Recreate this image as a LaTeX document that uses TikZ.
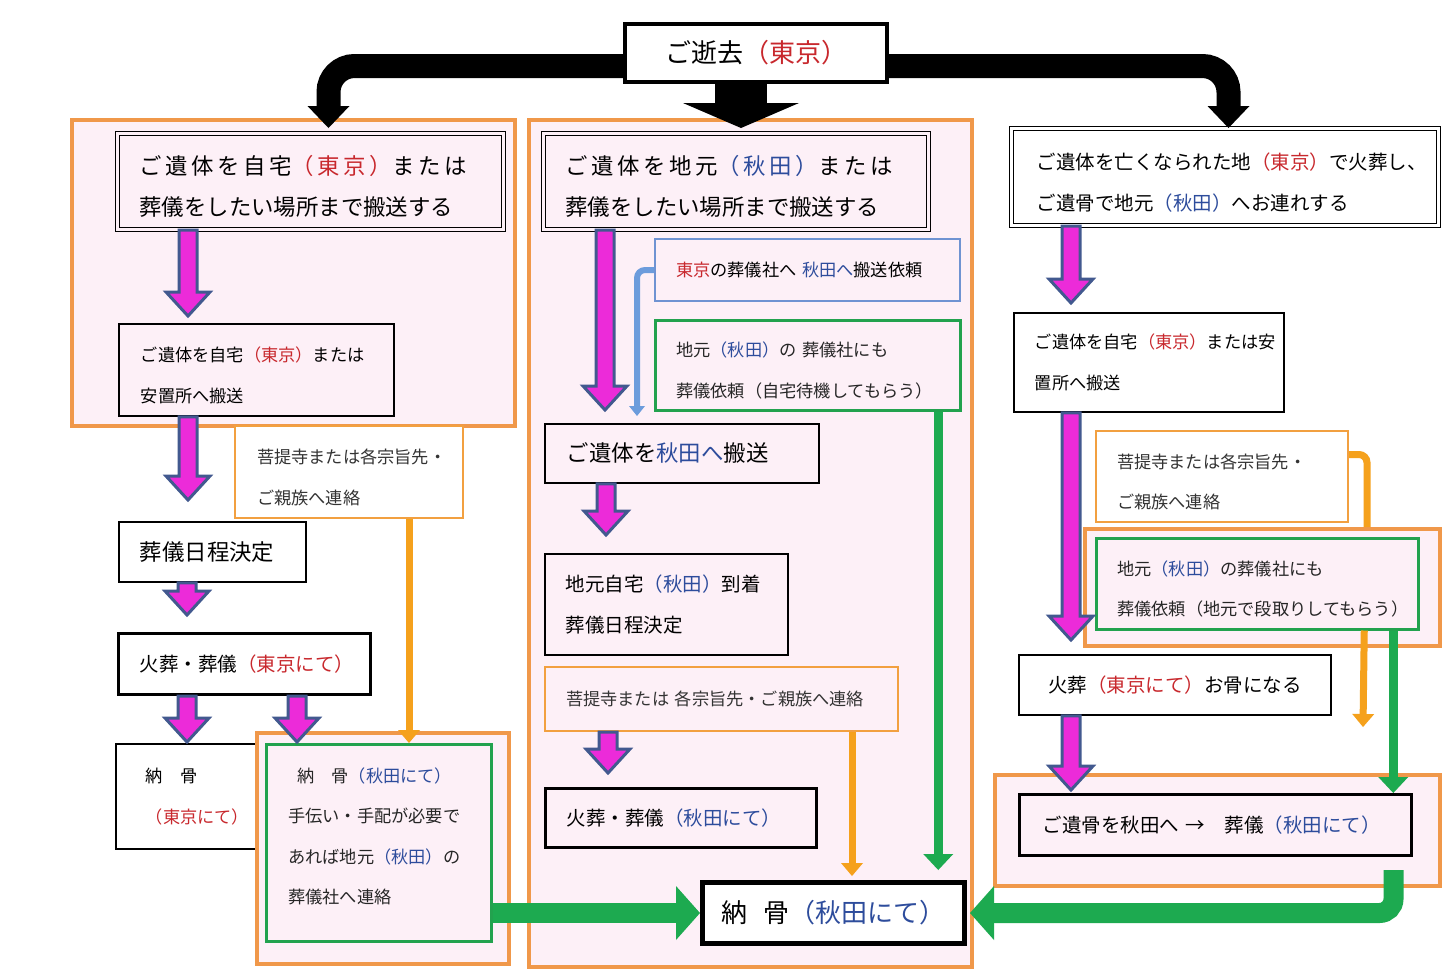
\documentclass[tikz,border=0pt]{standalone}
\usepackage{fontspec}
\setmainfont{Noto Sans CJK JP}
\usepackage{tikz}
\usetikzlibrary{arrows.meta,calc}

\definecolor{pinkbg}{HTML}{FDF0F7}
\definecolor{grouporange}{HTML}{F0984A}
\definecolor{lineorange}{HTML}{F5A11C}
\definecolor{boxorange}{HTML}{F2A040}
\definecolor{boxgreen}{HTML}{22A24E}
\definecolor{linegreen}{HTML}{1DAA50}
\definecolor{boxblue}{HTML}{6F93D2}
\definecolor{lineblue}{HTML}{6C9CDC}
\definecolor{arrowpink}{HTML}{EC2BD9}
\definecolor{arrowedge}{HTML}{42598F}
\definecolor{tkred}{HTML}{C8282D}
\definecolor{akblue}{HTML}{2D4C9C}

\newcommand\tokyo[1]{\textcolor{tkred}{#1}}
\newcommand\akita[1]{\textcolor{akblue}{#1}}
\newcommand\dropline{\rule{0pt}{\dimexpr0.88em+10pt\relax}}
% x, from, to, gap
\newcommand\fatarrow[4]{%
  \draw[fatarr] let \p1=(#2), \p2=(#3) in
    (#1pt-9pt,\y1) -- (#1pt+9pt,\y1) -- (#1pt+9pt,\y2+#4pt+24pt)
    -- (#1pt+22pt,\y2+#4pt+24pt) -- (#1pt,\y2+#4pt)
    -- (#1pt-22pt,\y2+#4pt+24pt) -- (#1pt-9pt,\y2+#4pt+24pt) -- cycle;}

\begin{document}
\begin{tikzpicture}[x=1pt,y=-1pt,
  box/.style={draw=black, line width=1.8pt, anchor=north west, inner sep=0pt, align=left, text=black},
  boxdim/.style n args={3}{minimum width=#1pt, minimum height=#2pt, text width=#3pt},
  dbl/.style={box, double=#1, double distance=2.5pt, line width=1pt},
  thick box/.style={box, line width=3pt},
  obox/.style={box, draw=boxorange, line width=2pt, text=black!80},
  gbox/.style={box, draw=boxgreen, line width=2.5pt, text=black!85},
  bbox/.style={box, draw=boxblue, line width=2pt},
  group/.style={draw=grouporange, line width=4pt, fill=pinkbg, anchor=north west, inner sep=0pt},
  ftitle/.style={font=\fontsize{26}{30}\selectfont},
  flarge/.style={font=\fontsize{22.4}{41}\selectfont},
  fmid/.style={font=\fontsize{19.5}{41}\selectfont},
  fsmall/.style={font=\fontsize{17.2}{40.5}\selectfont},
  fatarr/.style={fill=arrowpink, draw=arrowedge, line width=3pt, line join=miter},
  blackarr/.style={draw=black, line width=24pt, rounded corners=26pt,
    -{Triangle[width=42pt,length=22pt,line width=0pt]}},
  orangeline/.style={draw=lineorange, line width=7pt,
    -{Triangle[width=22pt,length=13pt,line width=0pt]}},
  greenline/.style={draw=linegreen, line width=9pt,
    -{Triangle[width=30pt,length=16pt,line width=0pt]}},
  greenbig/.style={draw=linegreen, line width=20pt,
    -{Triangle[width=54pt,length=24pt,line width=0pt]}},
  blueline/.style={draw=lineblue, line width=6pt,
    -{Triangle[width=16pt,length=10pt,line width=0pt]}}]

\fill[white] (0,0) rectangle (1450,978);
\useasboundingbox (0,0) rectangle (1450,978);

\node[group, minimum width=443pt, minimum height=306pt] (gL) at (70,118) {};
\node[group, minimum width=443pt, minimum height=847pt] (gM) at (527,118) {};
\node[group, minimum width=355pt, minimum height=117pt] (gR1) at (1083,527) {};
\node[group, minimum width=445pt, minimum height=111pt] (gR2) at (993,773) {};

\node[box, line width=4pt, fill=white, align=center, boxdim={262}{58}{240}, ftitle] (death) at (623,22) {ご逝去\tokyo{（東京）}};

% left
\node[dbl=pinkbg, boxdim={386}{96}{342}, flarge] (homeT) at (117,133)
  {\dropline{\addfontfeature{LetterSpace=16}ご遺体を自宅\tokyo{（東京）}または}\\葬儀をしたい場所まで搬送する};
\node[box, boxdim={275}{92}{231}, fsmall] (restT) at (118,323)
  {\dropline ご遺体を自宅\tokyo{（東京）}または\\安置所へ搬送};
\node[obox, fill=white, boxdim={228}{92}{184}, fsmall] (templeL) at (234,425)
  {\dropline 菩提寺または各宗旨先・\\ご親族へ連絡};
\node[box, fill=white, boxdim={187}{60}{145}, flarge] (dateL) at (118,521) {葬儀日程決定};
\node[thick box, fill=white, boxdim={252}{61}{210}, fmid] (funeralT) at (117,632)
  {火葬・葬儀\tokyo{（東京にて）}};
\node[box, fill=white, boxdim={147}{105}{87}, fsmall] (urnT) at (115,743)
  {納　骨\\\tokyo{（東京にて）}};
\node[group, minimum width=252pt, minimum height=231pt] (gUrn) at (255,731) {};
\node[gbox, boxdim={225}{197}{181}, fsmall] (urnA) at (265,743)
  {\hspace*{9pt}納　骨\akita{（秋田にて）}\\手伝い・手配が必要で\\あれば地元\akita{（秋田）}の\\葬儀社へ連絡\rule[-14pt]{0pt}{0pt}};

% middle
\node[dbl=pinkbg, boxdim={385}{96}{341}, flarge] (homeA) at (543,133)
  {\dropline{\addfontfeature{LetterSpace=16}ご遺体を地元\akita{（秋田）}または}\\葬儀をしたい場所まで搬送する};
\node[bbox, boxdim={305}{62}{263}, fsmall] (reqT) at (654,238)
  {\tokyo{東京}の葬儀社へ~\akita{秋田へ}搬送依頼};
\node[gbox, boxdim={305}{90}{263}, fsmall] (reqA) at (654,319)
  {\dropline 地元\akita{（秋田）}の~葬儀社にも\\葬儀依頼（自宅待機してもらう）};
\node[box, boxdim={274}{59}{230}, flarge] (moveA) at (544,423)
  {ご遺体を\akita{秋田へ}搬送};
\node[box, boxdim={243}{101}{201}, fmid] (arrive) at (544,553)
  {地元自宅\akita{（秋田）}到着\\葬儀日程決定};
\node[obox, boxdim={353}{64}{311}, fsmall] (templeM) at (544,666)
  {菩提寺または~各宗旨先・ご親族へ連絡};
\node[thick box, boxdim={271}{59}{229}, fmid] (funeralA) at (544,787)
  {火葬・葬儀\akita{（秋田にて）}};
\node[box, line width=5pt, fill=white, align=center, boxdim={262}{61}{240}, ftitle] (urnFinal) at (700,880)
  {納\hspace{0.6em}骨\akita{（秋田にて）}};

% right
\node[dbl=white, boxdim={427}{97}{377}, fmid] (cremT) at (1011,128)
  {\dropline ご遺体を亡くなられた地\tokyo{（東京）}で火葬し、\\ご遺骨で地元\akita{（秋田）}へお連れする};
\node[box, fill=white, boxdim={270}{99}{228}, fsmall] (restR) at (1013,312)
  {ご遺体を自宅\tokyo{（東京）}または安\\置所へ搬送};
\node[obox, fill=white, boxdim={252}{91}{210}, fsmall] (templeR) at (1095,430)
  {\dropline 菩提寺または各宗旨先・\\ご親族へ連絡};
\node[gbox, boxdim={322}{91}{280}, fsmall] (reqR) at (1095,537)
  {\dropline 地元\akita{（秋田）}の葬儀社にも\\葬儀依頼（地元で段取りしてもらう）};
\node[box, fill=white, align=center, boxdim={312}{60}{280}, fmid] (cremate) at (1018,654)
  {火葬\tokyo{（東京にて）}お骨になる};
\node[thick box, boxdim={392}{61}{346}, fmid] (bonesA) at (1018,793)
  {ご遺骨を秋田へ~→\quad 葬儀\akita{（秋田にて）}};

\coordinate (oEnd) at (1363,727);

% black arrows
\draw[blackarr] ([yshift=-13pt]death.west) -| ([xshift=18pt,yshift=5pt]homeT.north);
\draw[blackarr] ([yshift=-13pt]death.east) -| ([xshift=3.5pt]cremT.north);
\draw[blackarr, line width=52pt, -{Triangle[width=116pt,length=25pt,line width=0pt]}]
  ([xshift=-15pt]death.south) -- ([xshift=-15pt,yshift=5pt]death.south |- homeA.north);

% pink arrows
\fatarrow{188}{homeT.south}{restT.north}{7}
\fatarrow{188}{restT.south}{dateL.north}{21}
\fatarrow{187}{dateL.south}{funeralT.north}{17}
\fatarrow{187}{funeralT.south}{urnT.north}{1}
\fatarrow{297}{funeralT.south}{urnA.north}{1}
\fatarrow{605}{homeA.south}{moveA.north}{13}
\fatarrow{606}{moveA.south}{arrive.north}{18}
\fatarrow{608}{templeM.south}{funeralA.north}{14}
\fatarrow{1071}{cremT.south}{restR.north}{9}
\fatarrow{1071}{restR.south}{cremate.north}{14}
\fatarrow{1071}{cremate.south}{bonesA.north}{3}

% other connectors
\draw[blueline, rounded corners=8pt] (reqT.west) -| ([xshift=93pt,yshift=7pt]moveA.north west);
\draw[orangeline] ([xshift=60pt]templeL.south) -- ([xshift=60pt]templeL.south |- urnA.north);
\draw[orangeline] ([xshift=130.5pt]templeM.south) -- ([xshift=130.5pt,yshift=4pt]templeM.south |- urnFinal.north);
\draw[orangeline, -, rounded corners=8pt] ([yshift=22pt]templeR.east) -| ([xshift=18pt]templeR.east |- gR1.north);
\draw[orangeline] ([xshift=107pt]reqR.south) -- (oEnd);
\draw[greenline] ([xshift=130.5pt]reqA.south) -- ([xshift=130.5pt,yshift=10pt]reqA.south |- urnFinal.north);
\draw[greenline] ([xshift=136pt]reqR.south) -- ([xshift=136pt]reqR.south |- bonesA.north);
\draw[greenbig] (urnA.east |- urnFinal.west) -- (urnFinal.west);
\draw[greenbig, rounded corners=14pt] ([xshift=178pt,yshift=-13pt]bonesA.south) |- ([xshift=3pt]urnFinal.east);
\end{tikzpicture}
\end{document}
